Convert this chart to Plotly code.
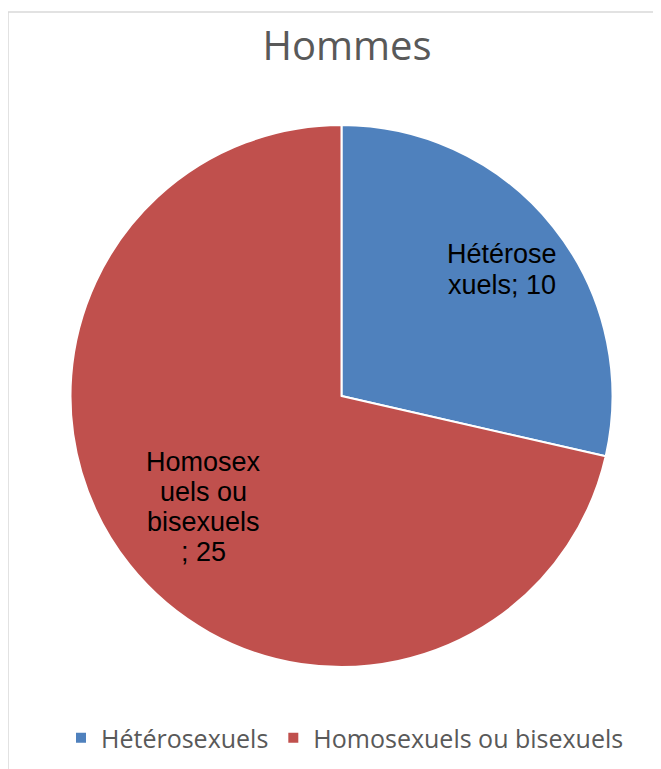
import plotly.graph_objects as go

W, H = 661, 769
OFF = 8  # page body margin of the browser

categories = ["Hétérosexuels", "Homosexuels ou bisexuels"]
values = [10, 25]
colors = ["#4F81BD", "#C0504D"]
title_text = "Hommes"

# label texts built from the data, wrapped like the original
label_texts = [f"{c}; {v}" for c, v in zip(categories, values)]
wrap_points = [[8], [7, 15, 24]]


def wrap(s, pts):
    out, prev = [], 0
    for p in pts:
        out.append(s[prev:p].strip())
        prev = p
    out.append(s[prev:].strip())
    return out


def px(x, y):
    return (x - OFF) / W, 1 - (y - OFF) / H


fig = go.Figure()

x0, y0 = px(70, 125)
x1, y1 = px(613, 667)
fig.add_trace(go.Pie(
    labels=categories,
    values=values,
    marker=dict(colors=colors, line=dict(color="white", width=2)),
    sort=False,
    direction="clockwise",
    rotation=0,
    textinfo="none",
    hoverinfo="label+value",
    domain=dict(x=[x0, x1], y=[y1, y0]),
))

annotations = []
label_layout = [
    dict(cx=502, baselines=[263.5, 294]),
    dict(cx=203, baselines=[471, 501, 531, 561]),
]
for txt, pts, lay in zip(label_texts, wrap_points, label_layout):
    for line, b in zip(wrap(txt, pts), lay["baselines"]):
        ax, ay = px(lay["cx"], b - 9)
        annotations.append(dict(
            x=ax, y=ay, xref="paper", yref="paper",
            text=line, showarrow=False,
            xanchor="center", yanchor="middle",
            font=dict(family="Liberation Sans, Arial", size=27, color="#000000"),
        ))

tx, ty = px(347, 46)
lx, ly = px(345, 738)
bx, by = px(8, 12)
fig.update_layout(
    width=W, height=H,
    margin=dict(l=0, r=0, t=0, b=0),
    paper_bgcolor="white",
    plot_bgcolor="white",
    title=dict(text=title_text, x=tx, y=ty, xanchor="center", yanchor="middle",
               xref="paper", yref="paper",
               font=dict(family="Open Sans", size=40, color="#595959")),
    showlegend=True,
    legend=dict(orientation="h", x=lx, y=ly,
                xanchor="center", yanchor="middle",
                font=dict(family="Open Sans", size=25, color="#595959"),
                itemwidth=30, traceorder="normal"),
    annotations=annotations,
    shapes=[dict(type="rect", xref="paper", yref="paper",
                 x0=bx, y0=-0.2, x1=1.2, y1=by,
                 line=dict(color="#D9D9D9", width=1.5), fillcolor="rgba(0,0,0,0)",
                 layer="below")],
)

fig.write_html("out.html")
